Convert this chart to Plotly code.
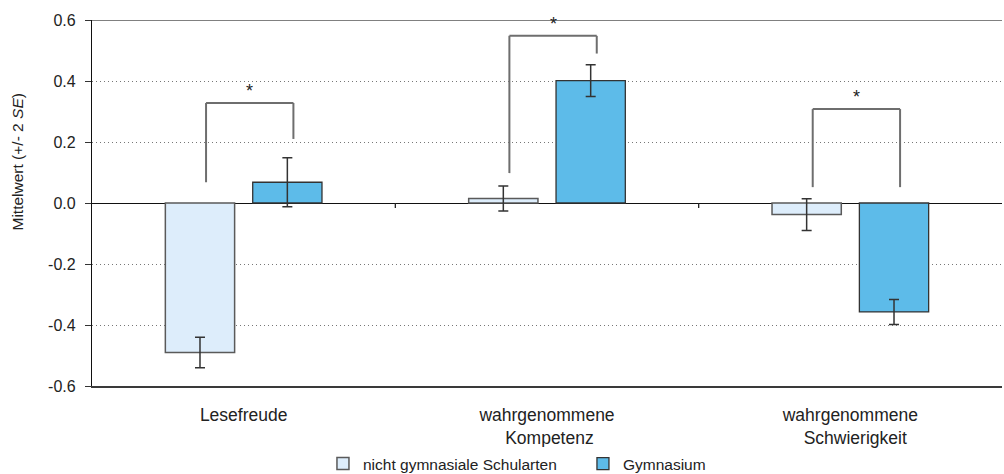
import plotly.graph_objects as go

# ---- data ----
categories = ["Lesefreude", "wahrgenommene<br> Kompetenz", "wahrgenommene<br>  Schwierigkeit"]
series_names = ["nicht gymnasiale Schularten", "Gymnasium"]
values_nicht = [-0.49, 0.015, -0.038]
err_nicht = [0.05, 0.041, 0.052]
values_gym = [0.068, 0.401, -0.357]
err_gym = [0.08, 0.052, 0.041]
# significance brackets: top height, left leg bottom, right leg bottom
bracket_top = [0.328, 0.548, 0.308]
bracket_left = [0.068, 0.098, 0.052]
bracket_right = [0.210, 0.490, 0.052]
bracket_label = ["*", "*", "*"]
y_tickvals = [-0.6, -0.4, -0.2, 0.0, 0.2, 0.4, 0.6]
y_ticktext = ["-0.6", "-0.4", "-0.2", "0.0", "0.2", "0.4", "0.6"]

FONT = "Arial, Liberation Sans, sans-serif"
FS = 15.5
TXT = "#222222"
xpos = list(range(len(categories)))

fig = go.Figure()
fig.add_trace(go.Bar(
    x=xpos, y=values_nicht, name=series_names[0],
    marker=dict(color="#ddedfb", line=dict(color="#5a5a5a", width=1.5)),
    error_y=dict(type="data", array=err_nicht, color="#333333", thickness=1.5, width=5),
))
fig.add_trace(go.Bar(
    x=xpos, y=values_gym, name=series_names[1],
    marker=dict(color="#5dbbe9", line=dict(color="#333333", width=1.3)),
    error_y=dict(type="data", array=err_gym, color="#333333", thickness=1.5, width=5),
))

BARGAP = 0.424
GROUPGAP = 0.207
slot = (1 - BARGAP) / 2
off_left = -slot / 2 + 0.02
off_right = slot / 2 + 0.02

shapes = []
annotations = []
bl = dict(color="#6e6e6e", width=2)
for i in xpos:
    xl = i + off_left
    xr = i + off_right
    shapes.append(dict(type="line", xref="x", yref="y", x0=xl, x1=xl, y0=bracket_left[i], y1=bracket_top[i], line=bl))
    shapes.append(dict(type="line", xref="x", yref="y", x0=xl, x1=xr, y0=bracket_top[i], y1=bracket_top[i], line=bl))
    shapes.append(dict(type="line", xref="x", yref="y", x0=xr, x1=xr, y0=bracket_top[i], y1=bracket_right[i], line=bl))
    annotations.append(dict(x=(xl + xr) / 2, y=bracket_top[i], xref="x", yref="y", text=bracket_label[i],
                            showarrow=False, yanchor="middle", yshift=12,
                            font=dict(family=FONT, size=18, color=TXT)))

# category separator ticks on zero line
for b in [0.5, 1.5]:
    shapes.append(dict(type="line", xref="x", yref="y", x0=b, x1=b, ysizemode="pixel", yanchor=0,
                       y0=0, y1=-5, line=dict(color="#222222", width=1.3)))

# top frame line
shapes.append(dict(type="line", xref="paper", yref="y", x0=0, x1=1, y0=y_tickvals[-1], y1=y_tickvals[-1],
                   line=dict(color="#808080", width=2)))

# y-axis title
annotations.append(dict(x=0, y=0.612, xref="paper", yref="paper", xshift=-85, textangle=-90,
                        text="Mittelwert (+/- 2 <i>SE</i>)", showarrow=False,
                        font=dict(family=FONT, size=FS, color=TXT)))

fig.update_layout(
    width=1004, height=474,
    margin=dict(l=92, r=2, t=20, b=88, autoexpand=False),
    paper_bgcolor="white", plot_bgcolor="white",
    barmode="group", bargap=BARGAP, bargroupgap=GROUPGAP,
    font=dict(family=FONT, size=FS, color=TXT),
    showlegend=True,
    legend=dict(orientation="h", x=0.2538, xanchor="left", yref="container", y=1 - 464 / 474,
                yanchor="middle", font=dict(family=FONT, size=FS, color=TXT), itemclick=False,
                itemwidth=30, entrywidth=215),
    shapes=shapes, annotations=annotations,
    xaxis=dict(range=[-0.5, 2.5], tickvals=xpos, ticktext=categories, showgrid=False, zeroline=False,
               showline=True, linecolor="#3a3a3a", linewidth=1.5, ticks="", ticklabelstandoff=12,
               automargin=False, tickfont=dict(family=FONT, size=17.5, color=TXT)),
    yaxis=dict(range=[-0.6, 0.6], tickvals=y_tickvals, ticktext=y_ticktext, showgrid=True,
               gridcolor="#777777", griddash="1px,3px", gridwidth=1,
               zeroline=True, zerolinecolor="#111111", zerolinewidth=1.2,
               showline=True, linecolor="#111111", linewidth=1.2,
               ticks="outside", ticklen=6, tickcolor="#333333", ticklabelstandoff=6,
               automargin=False, tickfont=dict(family=FONT, size=16, color=TXT)),
)

fig.write_html("out.html", config={"displayModeBar": False},
               post_script="document.body.style.margin='0px';document.body.style.overflow='hidden';")
